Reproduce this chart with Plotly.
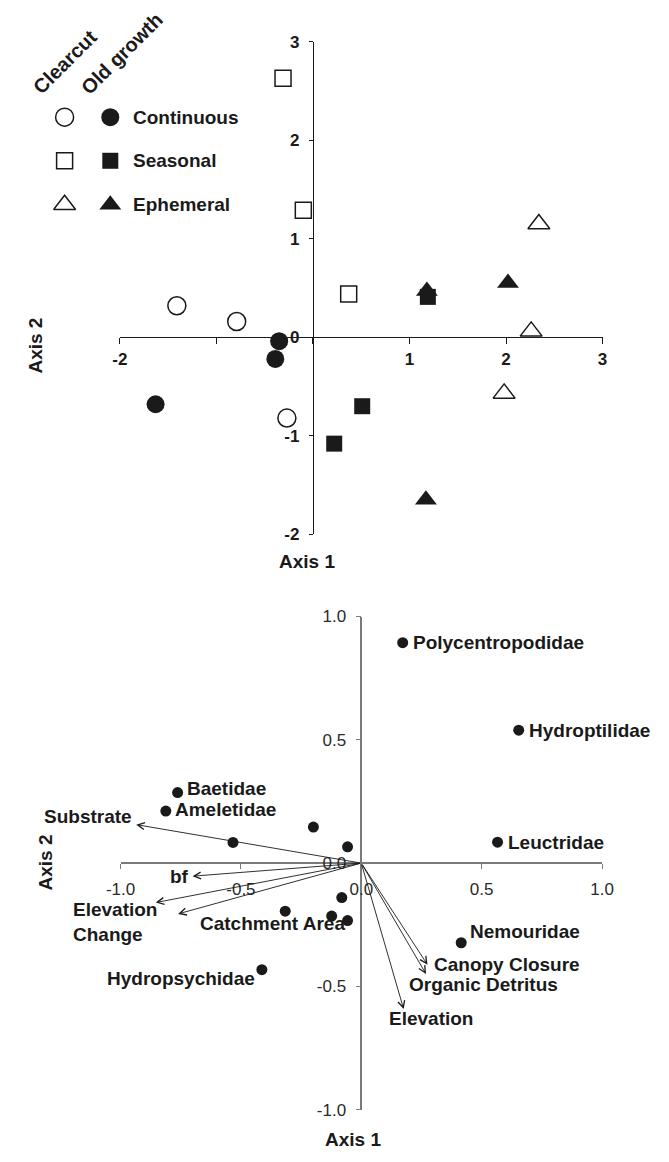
import plotly.graph_objects as go

W, H = 669, 1162
FONT = "Liberation Sans, Arial, Helvetica, sans-serif"
INK = "#1a1a1a"
GREY = "#7a7a7a"

# ---------------- Top panel: site scores ----------------
cc_cont_x = [-1.41, -0.79, -0.27]
cc_cont_y = [0.32, 0.16, -0.82]
og_cont_x = [-1.63, -0.35, -0.39]
og_cont_y = [-0.68, -0.04, -0.22]
cc_seas_x = [-0.31, -0.10, 0.37]
cc_seas_y = [2.63, 1.29, 0.44]
og_seas_x = [1.19, 0.51, 0.22]
og_seas_y = [0.41, -0.70, -1.08]
cc_eph_x = [2.34, 2.26, 1.98]
cc_eph_y = [1.15, 0.06, -0.57]
og_eph_x = [1.18, 2.02, 1.17]
og_eph_y = [0.47, 0.55, -1.65]

top_ticks = [-2, -1, 0, 1, 2, 3]
top_x_ticktext = ["-2", "", "", "1", "2", "3"]
top_y_ticktext = ["-2", "-1", "0", "1", "2", "3"]

flow_types = ["Continuous", "Seasonal", "Ephemeral"]
flow_symbols = ["circle", "square", "triangle-up"]
treatments = ["Clearcut", "Old growth"]

# ---------------- Bottom panel: taxa + environmental vectors ----------------
taxa_names = ["Polycentropodidae", "Hydroptilidae", "Leuctridae", "Nemouridae",
              "Baetidae", "Ameletidae", "Hydropsychidae"]
taxa_x = [0.172, 0.654, 0.566, 0.415, -0.763, -0.812, -0.413]
taxa_y = [0.894, 0.539, 0.085, -0.323, 0.286, 0.211, -0.432]
other_taxa_x = [-0.533, -0.199, -0.057, -0.316, -0.081, -0.123, -0.057]
other_taxa_y = [0.084, 0.146, 0.066, -0.195, -0.140, -0.215, -0.233]

env_names = ["Substrate", "bf", "Elevation<br>Change", "Catchment Area",
             "Canopy Closure", "Organic Detritus", "Elevation"]
env_x = [-0.935, -0.701, -0.854, -0.761, 0.275, 0.269, 0.176]
env_y = [0.156, -0.053, -0.160, -0.206, -0.412, -0.450, -0.592]

bot_ticks = [-1.0, -0.5, 0.0, 0.5, 1.0]
bot_ticktext = ["-1.0", "-0.5", "0.0", "0.5", "1.0"]

# ---------------- layout helpers (pixel -> paper) ----------------
def pxx(p):
    return p / W

def pxy(p):
    return 1 - p / H

TOP_XD = [pxx(109.3), pxx(612.3)]
TOP_YD = [pxy(534.0), pxy(33.3)]
BOT_XD = [pxx(110.0), pxx(611.7)]
BOT_YD = [pxy(1119.0), pxy(617.6)]

def frac(dom, rng, v):
    return dom[0] + (v - rng[0]) / (rng[1] - rng[0]) * (dom[1] - dom[0])

TOP_R = [-2, 3]
BOT_R = [-1, 1]

fig = go.Figure()

def open_marker(sym, size):
    return dict(symbol=sym, size=size, color="white", line=dict(color=INK, width=1.5))

def filled_marker(sym, size):
    return dict(symbol=sym, size=size, color=INK, line=dict(color=INK, width=0))

SIZES = {"circle": 18, "square": 16, "triangle-up": 19}

top_series = [
    (cc_cont_x, cc_cont_y, open_marker("circle", SIZES["circle"])),
    (og_cont_x, og_cont_y, filled_marker("circle", SIZES["circle"])),
    (cc_seas_x, cc_seas_y, open_marker("square", SIZES["square"])),
    (og_seas_x, og_seas_y, filled_marker("square", SIZES["square"])),
    (cc_eph_x, cc_eph_y, open_marker("triangle-up", SIZES["triangle-up"])),
    (og_eph_x, og_eph_y, filled_marker("triangle-up", SIZES["triangle-up"])),
]
for xs, ys, mk in top_series:
    fig.add_trace(go.Scatter(x=xs, y=ys, mode="markers", marker=mk,
                             xaxis="x", yaxis="y", cliponaxis=False,
                             showlegend=False, hoverinfo="skip"))

# custom legend (overlay axes in pixel units)
LEG_COL_X = [51.7, 99.3]
LEG_ROW_Y = [110.0, 154.3, 199.0]
for i, sym in enumerate(flow_symbols):
    fig.add_trace(go.Scatter(x=[LEG_COL_X[0]], y=[LEG_ROW_Y[i]], mode="markers",
                             marker=open_marker(sym, SIZES[sym]),
                             xaxis="x3", yaxis="y3", cliponaxis=False,
                             showlegend=False, hoverinfo="skip"))
    fig.add_trace(go.Scatter(x=[LEG_COL_X[1]], y=[LEG_ROW_Y[i]], mode="markers",
                             marker=filled_marker(sym, SIZES[sym]),
                             xaxis="x3", yaxis="y3", cliponaxis=False,
                             showlegend=False, hoverinfo="skip"))

# bottom points
fig.add_trace(go.Scatter(x=taxa_x + other_taxa_x, y=taxa_y + other_taxa_y,
                         mode="markers", marker=dict(size=11, color=INK),
                         xaxis="x2", yaxis="y2", cliponaxis=False,
                         showlegend=False, hoverinfo="skip"))

annotations = []
bold = dict(family=FONT, size=19, color=INK, weight="bold")

# legend texts
for i, name in enumerate(flow_types):
    annotations.append(dict(x=pxx(121), y=pxy(LEG_ROW_Y[i]), xref="paper", yref="paper",
                            text=name, showarrow=False, xanchor="left", yanchor="middle",
                            font=dict(family=FONT, size=19, color=INK, weight="bold")))
for pos, name in zip([(52, 54), (112, 45)], treatments):
    annotations.append(dict(x=pxx(pos[0]), y=pxy(pos[1]), xref="paper", yref="paper",
                            text=name, showarrow=False, textangle=-45,
                            xanchor="center", yanchor="middle",
                            font=dict(family=FONT, size=20, color=INK, weight="bold")))

# axis titles
title_font = dict(family=FONT, size=19, color=INK, weight="bold")
for (x, y, ang) in [(304, 562, 0), (21, 342, -90), (352, 1149, 0), (32, 868, -90)]:
    annotations.append(dict(x=pxx(x), y=pxy(y), xref="paper", yref="paper",
                            text=("Axis 1" if ang == 0 else "Axis 2"),
                            showarrow=False, textangle=ang,
                            xanchor="center", yanchor="middle", font=title_font))

# taxa labels: (xanchor, xshift, yshift)
taxa_off = [("left", 8, 0), ("left", 8, 0), ("left", 8, 0), ("left", 7, 11),
            ("left", 7, 4), ("left", 7, 2), ("right", -5, -9)]
for name, x, y, (xa, xs, ys) in zip(taxa_names, taxa_x, taxa_y, taxa_off):
    annotations.append(dict(x=x, y=y, xref="x2", yref="y2", text=name, showarrow=False,
                            xanchor=xa, yanchor="middle", xshift=xs, yshift=ys, font=bold))

# environmental vectors
for x, y in zip(env_x, env_y):
    annotations.append(dict(x=x, y=y, ax=0, ay=0, xref="x2", yref="y2",
                            axref="x2", ayref="y2", text="", showarrow=True,
                            arrowhead=5, arrowsize=1.5, arrowwidth=0.9,
                            arrowcolor=INK, standoff=0, startstandoff=0))

env_off = [("right", -2, 8), ("right", -2, 0),
           ("right", 3, -19), ("left", 20, -10),
           ("left", 5, 0), ("left", -19, -10),
           ("left", -17, -9)]
for name, x, y, (xa, xs, ys) in zip(env_names, env_x, env_y, env_off):
    annotations.append(dict(x=x, y=y, xref="x2", yref="y2", text=name, showarrow=False,
                            xanchor=xa, yanchor="middle", xshift=xs, yshift=ys,
                            align="left", font=bold))

tick_bold = dict(family=FONT, size=17, color=INK, weight="bold")
tick_reg = dict(family=FONT, size=17, color="#2a2a2a")

common = dict(showgrid=False, zeroline=False, showline=True, fixedrange=True,
              ticks="outside", anchor="free")

fig.update_layout(
    width=W, height=H, autosize=False,
    margin=dict(l=0, r=0, t=0, b=0, pad=0),
    paper_bgcolor="white", plot_bgcolor="rgba(0,0,0,0)",
    showlegend=False,
    xaxis=dict(domain=TOP_XD, range=TOP_R, position=frac(TOP_YD, TOP_R, 0),
               linecolor=INK, linewidth=1.2, tickcolor=INK, tickwidth=1.2, ticklen=6,
               tickvals=top_ticks, ticktext=top_x_ticktext, tickfont=tick_bold,
               ticklabelstandoff=0, **common),
    yaxis=dict(domain=TOP_YD, range=TOP_R, position=frac(TOP_XD, TOP_R, 0),
               linecolor=INK, linewidth=1.2, tickcolor=INK, tickwidth=1.2, ticklen=4,
               tickvals=top_ticks, ticktext=top_y_ticktext, tickfont=tick_bold,
               ticklabelstandoff=6, **common),
    xaxis2=dict(domain=BOT_XD, range=BOT_R, position=frac(BOT_YD, BOT_R, 0),
                linecolor=GREY, linewidth=1.5, tickcolor=GREY, tickwidth=1.3, ticklen=5,
                tickvals=bot_ticks, ticktext=bot_ticktext, tickfont=tick_reg,
                ticklabelstandoff=6, **common),
    yaxis2=dict(domain=BOT_YD, range=BOT_R, position=frac(BOT_XD, BOT_R, 0),
                linecolor=GREY, linewidth=1.5, tickcolor=GREY, tickwidth=1.3, ticklen=5,
                tickvals=bot_ticks, ticktext=bot_ticktext, tickfont=tick_reg,
                ticklabelstandoff=6, **common),
    xaxis3=dict(domain=[0, 1], range=[0, W], visible=False, fixedrange=True, anchor="y3"),
    yaxis3=dict(domain=[0, 1], range=[H, 0], visible=False, fixedrange=True, anchor="x3"),
    annotations=annotations,
)

fig.write_html("out.html", config={"displayModeBar": False})
